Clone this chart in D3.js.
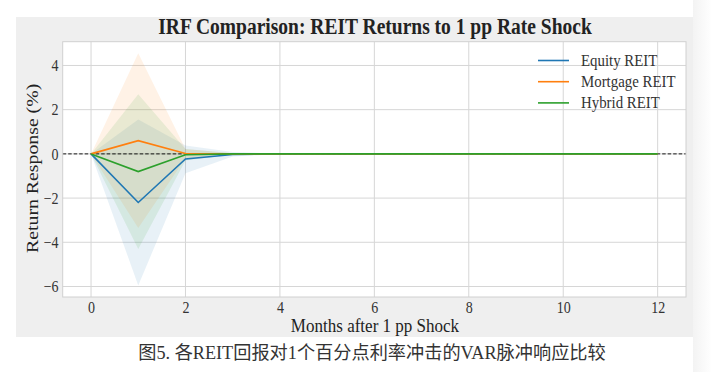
<!DOCTYPE html>
<html>
<head>
<meta charset="utf-8">
<script src="https://cdn.jsdelivr.net/npm/d3@7"></script>
<style>
  body { margin: 0; background: #fff; }
  svg { display: block; }
  .tick text { font-family: "Liberation Serif", "DejaVu Serif", serif; font-size: 16.3px; fill: #333; }
</style>
</head>
<body>
<svg id="chart"></svg>
<script>
let w = 712;
let h = 372;

// months after shock
let months = d3.range(0, 13);

let seriesNames = ["Equity REIT", "Mortgage REIT", "Hybrid REIT"];
let colors = ["#1f77b4", "#ff7f0e", "#2ca02c"];

let equityIrf = [0, -2.2, -0.23, -0.03, 0, 0, 0, 0, 0, 0, 0, 0, 0];
let equityLo  = [0, -5.95, -0.88, -0.12, -0.01, 0, 0, 0, 0, 0, 0, 0, 0];
let equityHi  = [0, 1.55, 0.38, 0.08, 0.01, 0, 0, 0, 0, 0, 0, 0, 0];

let mortgageIrf = [0, 0.6, 0.02, 0, 0, 0, 0, 0, 0, 0, 0, 0, 0];
let mortgageLo  = [0, -3.35, -0.2, -0.03, 0, 0, 0, 0, 0, 0, 0, 0, 0];
let mortgageHi  = [0, 4.55, 0.22, 0.03, 0, 0, 0, 0, 0, 0, 0, 0, 0];

let hybridIrf = [0, -0.8, -0.04, 0, 0, 0, 0, 0, 0, 0, 0, 0, 0];
let hybridLo  = [0, -4.3, -0.3, -0.03, 0, 0, 0, 0, 0, 0, 0, 0, 0];
let hybridHi  = [0, 2.7, 0.22, 0.03, 0, 0, 0, 0, 0, 0, 0, 0, 0];

let xTicks = [0, 2, 4, 6, 8, 10, 12];
let yTicks = [-6, -4, -2, 0, 2, 4];

let series = [
  { name: seriesNames[0], irf: equityIrf, lo: equityLo, hi: equityHi, color: colors[0] },
  { name: seriesNames[1], irf: mortgageIrf, lo: mortgageLo, hi: mortgageHi, color: colors[1] },
  { name: seriesNames[2], irf: hybridIrf, lo: hybridLo, hi: hybridHi, color: colors[2] }
];

let svg = d3.select("#chart").attr("width", w).attr("height", h);

let serif = '"Liberation Serif", "DejaVu Serif", serif';
let squeeze = 0.86; // the figure text looks narrowed horizontally

// faint shade on the far right edge
let grad = svg.append("defs").append("linearGradient").attr("id", "edge");
grad.append("stop").attr("offset", "0%").attr("stop-color", "#f3f3f3");
grad.append("stop").attr("offset", "100%").attr("stop-color", "#ffffff");
svg.append("rect").attr("x", 693).attr("y", 0).attr("width", 19).attr("height", h).attr("fill", "url(#edge)");

// figure background
svg.append("rect")
  .attr("x", 16).attr("y", 17)
  .attr("width", 677).attr("height", 320)
  .attr("fill", "#efefef");

let pLeft = 62.7, pRight = 686, pTop = 41.7, pBottom = 297;

let allVals = series.flatMap(s => s.lo.concat(s.hi));
let yMin = d3.min(allVals), yMax = d3.max(allVals);
let yPad = (yMax - yMin) * 0.05;

let xScale = d3.scaleLinear().domain([-0.6, 12.6]).range([pLeft, pRight]);
let yScale = d3.scaleLinear().domain([yMin - yPad, yMax + yPad]).range([pBottom, pTop]);

// plot area
svg.append("rect")
  .attr("x", pLeft).attr("y", pTop)
  .attr("width", pRight - pLeft).attr("height", pBottom - pTop)
  .attr("fill", "#fff");

// grid
let grid = svg.append("g");
grid.selectAll(".vg").data(xTicks).enter().append("line")
  .attr("x1", d => xScale(d)).attr("x2", d => xScale(d))
  .attr("y1", pTop).attr("y2", pBottom)
  .attr("stroke", "#d6d6d6").attr("stroke-width", 1);
grid.selectAll(".hg").data(yTicks).enter().append("line")
  .attr("x1", pLeft).attr("x2", pRight)
  .attr("y1", d => yScale(d)).attr("y2", d => yScale(d))
  .attr("stroke", "#d6d6d6").attr("stroke-width", 1);

// confidence bands
let area = d3.area()
  .x((d, i) => xScale(months[i]))
  .y0(d => yScale(d[0]))
  .y1(d => yScale(d[1]));

series.forEach(s => {
  let band = s.lo.map((v, i) => [v, s.hi[i]]);
  svg.append("path")
    .attr("d", area(band))
    .attr("fill", s.color)
    .attr("fill-opacity", 0.1);
});

// zero line
svg.append("line")
  .attr("x1", pLeft).attr("x2", pRight)
  .attr("y1", yScale(0)).attr("y2", yScale(0))
  .attr("stroke", "#000").attr("stroke-width", 0.9)
  .attr("stroke-dasharray", "3.5,2");

// irf lines
let line = d3.line()
  .x((d, i) => xScale(months[i]))
  .y(d => yScale(d));

series.forEach(s => {
  svg.append("path")
    .attr("d", line(s.irf))
    .attr("fill", "none")
    .attr("stroke", s.color)
    .attr("stroke-width", 1.6);
});

// frame
svg.append("rect")
  .attr("x", pLeft).attr("y", pTop)
  .attr("width", pRight - pLeft).attr("height", pBottom - pTop)
  .attr("fill", "none").attr("stroke", "#d0d0d0").attr("stroke-width", 1);

// axes
let xAxis = d3.axisBottom(xScale).tickValues(xTicks).tickSize(0).tickPadding(4)
  .tickFormat(d3.format("d"));
let yAxis = d3.axisLeft(yScale).tickValues(yTicks).tickSize(0).tickPadding(5)
  .tickFormat(d => d < 0 ? "\u2212" + Math.abs(d) : d);

let xAxisGroup = svg.append("g")
  .attr("transform", `translate(0, ${pBottom})`)
  .call(xAxis);
let yAxisGroup = svg.append("g")
  .attr("transform", `translate(${pLeft}, 0)`)
  .call(yAxis);
xAxisGroup.select(".domain").remove();
yAxisGroup.select(".domain").remove();
xAxisGroup.selectAll(".tick text").attr("transform", `scale(${squeeze},1)`);
yAxisGroup.selectAll(".tick text").attr("transform", `scale(${squeeze},1)`);

// title and labels
svg.append("text")
  .attr("transform", `translate(375, 34) scale(${squeeze},1)`)
  .attr("text-anchor", "middle")
  .attr("font-family", serif).attr("font-weight", "bold").attr("font-size", 22.7)
  .attr("fill", "#222")
  .text("IRF Comparison: REIT Returns to 1 pp Rate Shock");

svg.append("text")
  .attr("transform", `translate(375, 331.5) scale(${squeeze},1)`)
  .attr("text-anchor", "middle")
  .attr("font-family", serif).attr("font-size", 19.8)
  .attr("fill", "#222")
  .text("Months after 1 pp Shock");

svg.append("text")
  .attr("transform", `translate(38, ${(pTop + pBottom) / 2 - 1}) scale(${squeeze},1) rotate(-90)`)
  .attr("text-anchor", "middle")
  .attr("font-family", serif).attr("font-size", 19.8)
  .attr("fill", "#222")
  .text("Return Response (%)");

// legend
let legend = svg.append("g").attr("transform", "translate(538, 60.5)");
series.forEach((s, i) => {
  let g = legend.append("g").attr("transform", `translate(0, ${i * 21.2})`);
  g.append("line").attr("x1", 0).attr("x2", 31).attr("y1", 0).attr("y2", 0)
    .attr("stroke", s.color).attr("stroke-width", 1.6);
  g.append("text").attr("transform", `translate(43, 5.5) scale(${squeeze},1)`)
    .attr("font-family", serif).attr("font-size", 17.3).attr("fill", "#333")
    .text(s.name);
});

// caption
svg.append("text")
  .attr("x", 372).attr("y", 359)
  .attr("text-anchor", "middle")
  .attr("font-family", '"Liberation Serif", "Noto Sans CJK SC", serif').attr("font-size", 18.2)
  .attr("fill", "#333")
  .text("图5. 各REIT回报对1个百分点利率冲击的VAR脉冲响应比较");
</script>
</body>
</html>
